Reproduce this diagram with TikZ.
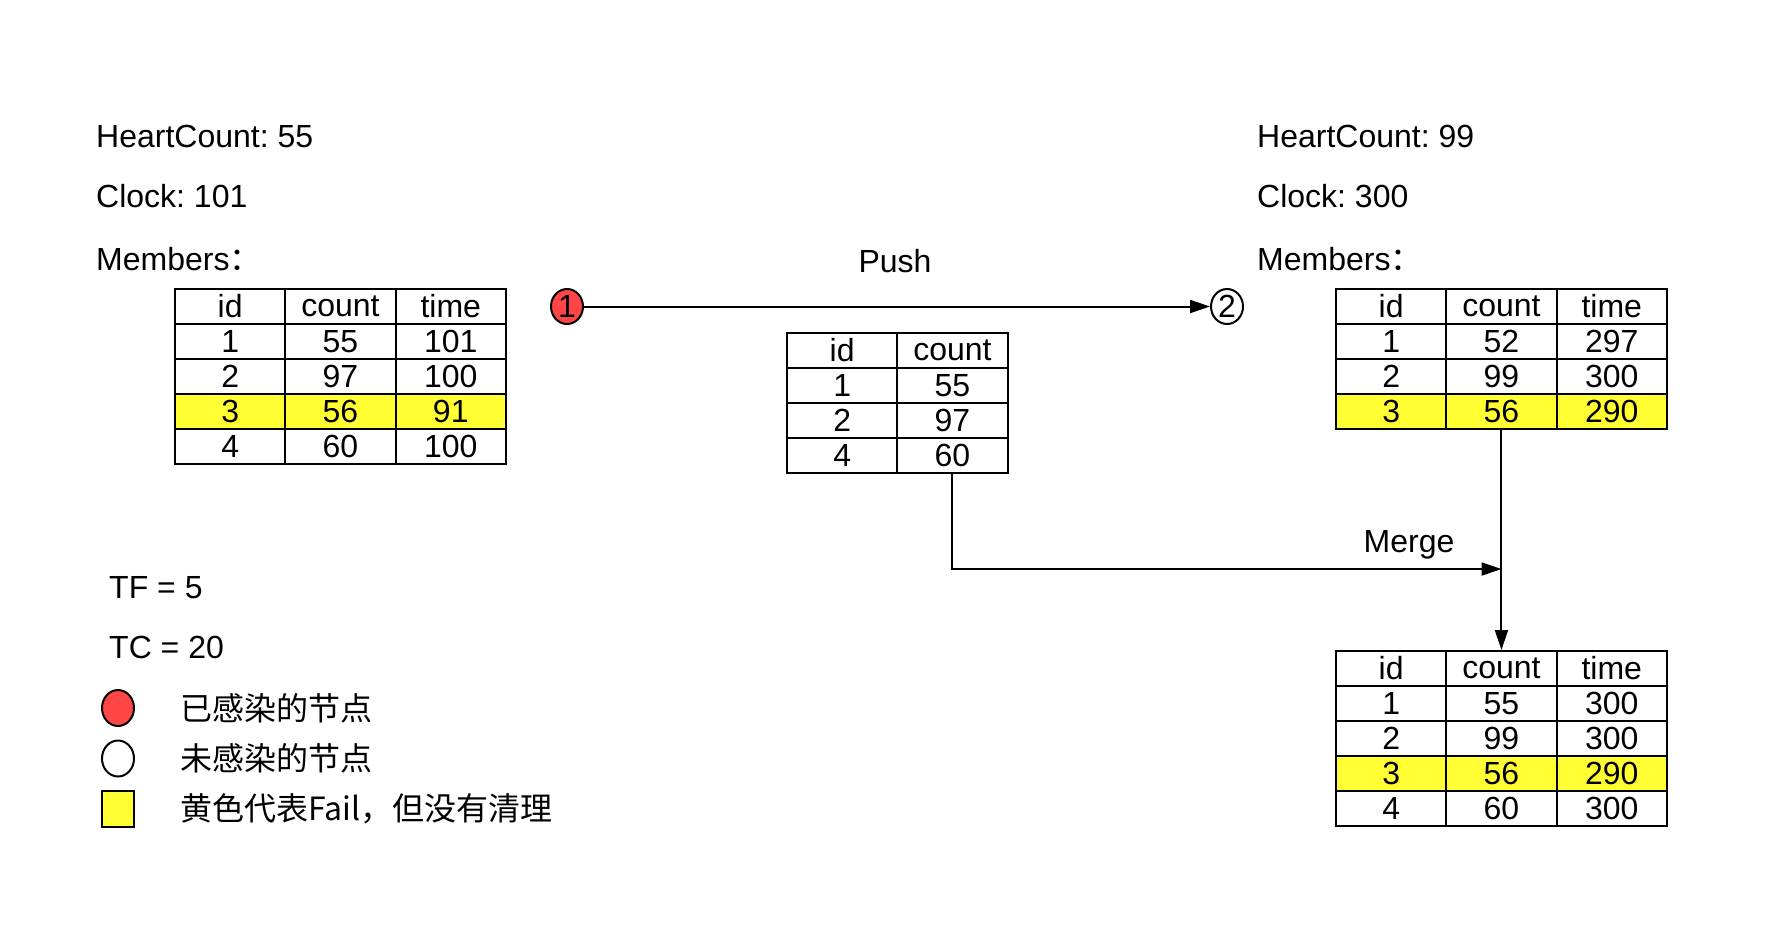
\documentclass[tikz,border=0pt]{standalone}
\usepackage{fontspec}
\setmainfont{Liberation Sans}
\newfontfamily\cjk{Noto Sans CJK SC}
\usetikzlibrary{arrows.meta,shapes.geometric}
\definecolor{nodered}{HTML}{FF4545}
\definecolor{yel}{HTML}{FFFF33}
\tikzset{
  cell/.style={draw, rectangle, minimum width=110.3pt, minimum height=35pt, inner sep=0pt, line width=2pt},
  lbl/.style={anchor=base west, inner sep=0pt},
  arr/.style={draw, line width=2pt, -{Triangle[length=20pt,width=13pt]}},
  dot/.style={draw, ellipse, line width=2pt, minimum width=32pt, minimum height=35pt, inner sep=0pt},
  sq/.style={draw, rectangle, line width=2pt, minimum width=32pt, minimum height=36pt, inner sep=0pt, fill=yel},
}
\newcommand\mktable[5]{%
  \foreach \row [count=\i from 0] in {#4} {
    \foreach \cellv [count=\j from 0] in \row {
      \ifnum\i=#5 \def\cf{yel}\else\def\cf{white}\fi
      \node[cell, fill=\cf] (#1-\i-\j) at ({#2+110.3*\j+55.15},{#3+35*\i+17.5}) {\cellv};
    }
  }
}
\frenchspacing
\begin{document}
\begin{tikzpicture}[x=1pt,y=-1pt,font=\fontsize{32}{38}\selectfont]
\useasboundingbox[fill=white] (0,0) rectangle (1772,946);

% left node state
\node[lbl] (hc1) at (96,147.5) {HeartCount: 55};
\node[lbl] (ck1) at (96,207.5) {Clock: 101};
\node[lbl] (mb1) at (96,270.5) {Members{\cjk ：}};
\mktable{L}{175}{289}{{id,count,time},{1,55,101},{2,97,100},{3,56,91},{4,60,100}}{3}

% right node state
\node[lbl] (hc2) at (1257,147.5) {HeartCount: 99};
\node[lbl] (ck2) at (1257,207.5) {Clock: 300};
\node[lbl] (mb2) at (1257,270.5) {Members{\cjk ：}};
\mktable{R}{1336}{289}{{id,count,time},{1,52,297},{2,99,300},{3,56,290}}{3}

% pushed table
\mktable{M}{787}{333}{{id,count},{1,55},{2,97},{4,60}}{-1}

% merged table
\mktable{B}{1336}{651}{{id,count,time},{1,55,300},{2,99,300},{3,56,290},{4,60,300}}{3}

% nodes 1 and 2
\node[dot, fill=nodered] (n1) at (567,306.5) {1};
\node[dot, fill=white] (n2) at (1227,306.5) {2};
\draw[arr] (n1) -- (n2);
\node[anchor=base, inner sep=0pt] (push) at (895,272.5) {Push};

% merge
\coordinate (J) at (1501.5,569);
\draw[arr] (M-3-1.south) |- (J);
\draw[arr] (R-3-1.south) -- (B-0-1.north);
\node[anchor=base, inner sep=0pt] (merge) at (1409,552.5) {Merge};

% parameters
\node[lbl] (tf) at (109,598.5) {TF = 5};
\node[lbl] (tc) at (109,658.5) {TC = 20};

% legend
\node[dot, fill=nodered, minimum height=36pt] (lr) at (118,708) {};
\node[dot, fill=white, minimum height=36pt] (lw) at (118,758.5) {};
\node[sq] (ly) at (118,809) {};
\node[anchor=west, inner sep=0pt] (tr) at (180,708) {\cjk 已感染的节点};
\node[anchor=west, inner sep=0pt] (tw) at (180,758.5) {\cjk 未感染的节点};
\node[anchor=west, inner sep=0pt] (ty) at (180,809) {\cjk 黄色代表Fail，但没有清理};
\end{tikzpicture}
\end{document}
